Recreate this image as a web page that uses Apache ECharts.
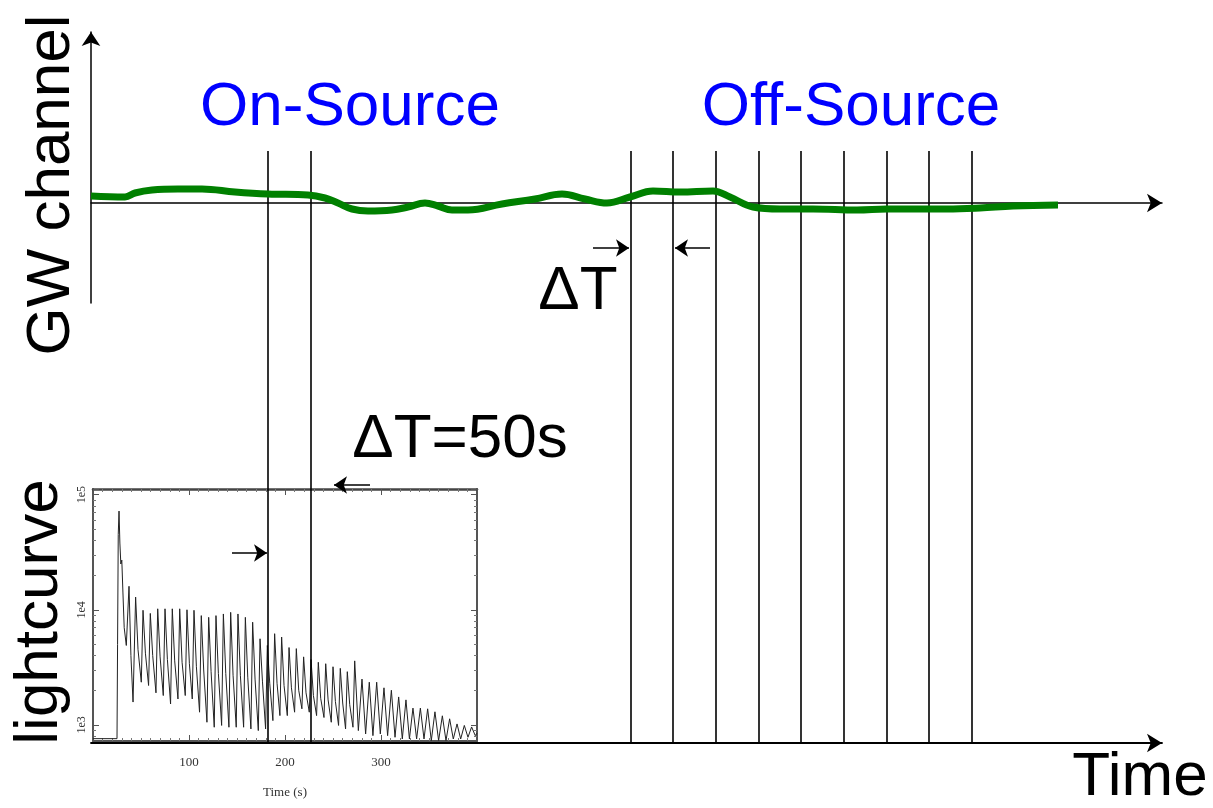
<!DOCTYPE html>
<html>
<head>
<meta charset="utf-8">
<title>On-Source / Off-Source</title>
<script src="https://cdn.jsdelivr.net/npm/echarts@6/dist/echarts.min.js"></script>
<style>
  html, body { margin: 0; padding: 0; background: #fff; }
  #myChart { width: 1213px; height: 808px; }
</style>
</head>
<body>
<div id="myChart"></div>
<script>
// GW channel trace (time in schematic units, amplitude in arbitrary units)
const gwTime = [0, 34, 44, 61, 87, 111, 144, 177, 217, 234, 247, 261, 277, 301, 317, 334, 347, 361, 377, 411,
  444, 471, 494, 516, 539, 562, 589, 622, 639, 662, 689, 722, 766, 796, 856, 889, 922, 967]
const gwStrain = [7, 6, 10, 13, 14, 14, 11, 9, 8, 5, 0, -6, -8, -7, -4, 0, -3, -7, -7, -1,
  4, 9, 4, 0, 6, 12, 11, 12, 6, -4, -6, -6, -7, -6, -6, -5, -3, -2]

// window edges on the common time axis
const onSourceEdges = [177, 220]
const offSourceEdges = [540, 582, 625, 668, 710, 753, 796, 838, 881]

// delta-T arrows: [from, to, level]
const deltaArrows = [[502, 538, 495], [619, 584, 495], [279, 243, 258], [141, 176, 190]]

// inset light curve: [time (s), counts]
const lightcurve = [
  [0, 760], [25.0, 760], [25.6, 5000], [26.3, 45000], [27.1, 72000], [28.0, 38000], [29.0, 25000],
  [30.0, 27000], [31.2, 14000], [32.5, 7000], [34.7, 4900],
  [37.5, 16000], [39.5, 4000], [41.7, 1580],
  [44.4, 12900], [46.9, 4500], [50.3, 2350],
  [52.1, 9900], [54.6, 4200], [57.9, 2200],
  [59.7, 9300], [62.2, 4000], [65.6, 1900],
  [67.4, 10200], [69.9, 3900], [73.2, 1800],
  [75.0, 10200], [77.5, 3700], [80.8, 1520],
  [82.6, 10200], [85.1, 3600], [88.5, 1680],
  [90.3, 10200], [92.8, 3500], [96.1, 1800],
  [97.9, 10000], [100.4, 3400], [103.4, 1680],
  [105.2, 9900], [107.7, 3200], [111.0, 1290],
  [112.8, 8900], [115.3, 3000], [118.7, 1055],
  [120.5, 8600], [123.0, 2900], [126.3, 955],
  [128.1, 8900], [130.6, 2800], [134.0, 990],
  [135.8, 9200], [138.3, 2800], [141.6, 955],
  [143.4, 9500], [145.9, 2700], [149.2, 955],
  [151.0, 9200], [153.5, 2700], [156.9, 955],
  [158.7, 8600], [161.2, 2600], [164.5, 923],
  [166.3, 7800], [168.8, 2500], [172.2, 893],
  [174.0, 5600], [176.5, 2400], [179.8, 923],
  [181.6, 4900], [184.1, 2300], [187.4, 1090],
  [189.2, 6200], [191.7, 2300], [194.7, 1205],
  [196.5, 5800], [199.0, 2200], [202.4, 1205],
  [204.2, 4700], [206.7, 2100], [210.0, 1290],
  [211.8, 4600], [214.3, 2000], [217.6, 1380],
  [219.4, 3900], [221.9, 1900], [225.3, 1290],
  [227.1, 3700], [229.6, 1800], [232.9, 1205],
  [234.7, 3500], [237.2, 1700], [240.6, 1160],
  [242.4, 3400], [244.9, 1650], [248.2, 1055],
  [250.0, 3200], [252.5, 1600], [255.8, 990],
  [257.6, 3100], [260.1, 1550], [263.1, 923],
  [264.9, 2900], [267.4, 1500], [270.8, 955],
  [272.6, 3600], [276.4, 893],
  [280.2, 2500], [284.0, 835],
  [287.8, 2350], [291.6, 807],
  [295.5, 2350], [299.3, 835],
  [303.1, 2100], [306.9, 807],
  [310.8, 2000], [314.6, 781],
  [318.4, 1750], [322.2, 755],
  [326.0, 1650], [329.6, 755],
  [333.3, 1400], [337.1, 755],
  [341.0, 1400], [344.8, 755],
  [348.6, 1380], [352.4, 731],
  [356.2, 1300], [360.0, 731],
  [363.9, 1200], [367.7, 731],
  [371.5, 1130], [375.3, 755],
  [379.2, 1020], [383.0, 755],
  [386.8, 990], [390.6, 781],
  [394.4, 960], [398.2, 807],
  [400, 850]
]
const lcTimeTicks = [100, 200, 300]
const lcDecades = [1e3, 1e4, 1e5]

const sans = '"Liberation Sans", Arial, sans-serif'
const serif = '"Liberation Serif", "DejaVu Serif", serif'

const myChart = echarts.init(document.getElementById('myChart'))

const edgeLines = onSourceEdges.concat(offSourceEdges).map(t => ({ coords: [[t, 0], [t, 592]] }))
const arrowLines = deltaArrows.map(a => ({ coords: [[a[0], a[2]], [a[1], a[2]]] }))

const isDecade = v => lcDecades.some(d => Math.abs(v - d) / d < 1e-6)

const option = {
  animation: false,
  backgroundColor: '#fff',
  grid: [
    // whole schematic (window edges + time axis)
    { left: 91, right: 51, top: 151, bottom: 65 },
    // GW channel
    { left: 91, right: 51, top: 32, height: 271 },
    // light curve inset
    { left: 93, top: 489, width: 384, height: 252 }
  ],
  xAxis: [
    {
      gridIndex: 0, type: 'value', min: 0, max: 1071,
      axisLine: { show: true, symbol: ['none', 'arrow'], symbolSize: [14, 15], lineStyle: { color: '#000', width: 1.8 } },
      axisTick: { show: false }, axisLabel: { show: false }, splitLine: { show: false }
    },
    {
      gridIndex: 1, type: 'value', min: 0, max: 1071,
      axisLine: { show: true, onZero: true, symbol: ['none', 'arrow'], symbolSize: [14, 15], lineStyle: { color: '#000', width: 1.5 } },
      axisTick: { show: false }, axisLabel: { show: false }, splitLine: { show: false }
    },
    {
      gridIndex: 2, type: 'value', min: 0, max: 400, interval: 100, position: 'bottom',
      name: 'Time (s)', nameLocation: 'middle', nameGap: 45,
      nameTextStyle: { fontFamily: serif, fontSize: 13, color: '#333' },
      axisLine: { show: true, onZero: false, lineStyle: { color: '#555', width: 2 } },
      axisTick: { show: true, inside: true, length: 6, lineStyle: { color: '#555' } },
      minorTick: { show: true, splitNumber: 10, length: 3, lineStyle: { color: '#777' } },
      axisLabel: {
        margin: 15, fontFamily: serif, fontSize: 13, color: '#333',
        formatter: v => (lcTimeTicks.indexOf(v) >= 0 ? String(v) : '')
      },
      splitLine: { show: false }
    },
    {
      gridIndex: 2, type: 'value', min: 0, max: 400, interval: 100, position: 'top',
      axisLine: { show: true, onZero: false, lineStyle: { color: '#444', width: 2.5 } },
      axisTick: { show: true, inside: true, length: 6, lineStyle: { color: '#555' } },
      minorTick: { show: true, splitNumber: 10, length: 3, lineStyle: { color: '#777' } },
      axisLabel: { show: false }, splitLine: { show: false }
    }
  ],
  yAxis: [
    {
      gridIndex: 0, type: 'value', min: 0, max: 592, show: false
    },
    {
      gridIndex: 1, type: 'value', min: -100, max: 171,
      axisLine: { show: true, onZero: false, symbol: ['none', 'arrow'], symbolSize: [14, 14], lineStyle: { color: '#000', width: 1.5 } },
      axisTick: { show: false }, axisLabel: { show: false }, splitLine: { show: false }
    },
    {
      gridIndex: 2, type: 'log', logBase: 10, min: 725, max: 112000, position: 'left',
      axisLine: { show: true, onZero: false, lineStyle: { color: '#555', width: 2 } },
      axisTick: { show: true, inside: true, length: 6, lineStyle: { color: '#555' } },
      minorTick: { show: true, splitNumber: 9, length: 3, lineStyle: { color: '#777' } },
      axisLabel: {
        rotate: 90, margin: 5, fontFamily: serif, fontSize: 12, color: '#333',
        showMinLabel: false, showMaxLabel: false,
        formatter: v => (isDecade(v) ? '1e' + Math.round(Math.log10(v)) : '')
      },
      splitLine: { show: false }
    },
    {
      gridIndex: 2, type: 'log', logBase: 10, min: 725, max: 112000, position: 'right',
      axisLine: { show: true, onZero: false, lineStyle: { color: '#555', width: 2 } },
      axisTick: { show: true, inside: true, length: 6, lineStyle: { color: '#555' } },
      minorTick: { show: true, splitNumber: 9, length: 3, lineStyle: { color: '#777' } },
      axisLabel: { show: false }, splitLine: { show: false }
    }
  ],
  series: [
    {
      name: 'lightcurve',
      type: 'line',
      xAxisIndex: 2,
      yAxisIndex: 2,
      showSymbol: false,
      lineStyle: { color: '#222', width: 1 },
      data: lightcurve,
      z: 2
    },
    {
      name: 'GW channel',
      type: 'line',
      xAxisIndex: 1,
      yAxisIndex: 1,
      smooth: 0.4,
      showSymbol: false,
      lineStyle: { color: '#008000', width: 7, cap: 'butt' },
      data: gwTime.map((t, i) => [t, gwStrain[i]]),
      z: 4
    },
    {
      name: 'windows',
      type: 'lines',
      coordinateSystem: 'cartesian2d',
      xAxisIndex: 0,
      yAxisIndex: 0,
      symbol: 'none',
      lineStyle: { color: '#000', width: 1.6, opacity: 1 },
      data: edgeLines,
      z: 3
    },
    {
      name: 'delta T',
      type: 'lines',
      coordinateSystem: 'cartesian2d',
      xAxisIndex: 0,
      yAxisIndex: 0,
      symbol: ['none', 'arrow'],
      symbolSize: 13,
      lineStyle: { color: '#000', width: 1.5, opacity: 1 },
      data: arrowLines,
      z: 5
    }
  ],
  graphic: [
    { type: 'text', x: 350, y: 108, style: { text: 'On-Source', fill: '#0000ff', font: '62px ' + sans, align: 'center', verticalAlign: 'middle' } },
    { type: 'text', x: 851, y: 108, style: { text: 'Off-Source', fill: '#0000ff', font: '62px ' + sans, align: 'center', verticalAlign: 'middle' } },
    { type: 'text', x: 52, y: 185, rotation: Math.PI / 2, style: { text: 'GW channel', fill: '#000', font: '62px ' + sans, align: 'center', verticalAlign: 'middle' } },
    { type: 'text', x: 40, y: 612, rotation: Math.PI / 2, style: { text: 'lightcurve', fill: '#000', font: '62px ' + sans, align: 'center', verticalAlign: 'middle' } },
    { type: 'text', x: 578, y: 292, style: { text: 'ΔT', fill: '#000', font: '62px ' + sans, align: 'center', verticalAlign: 'middle' } },
    { type: 'text', x: 460, y: 440, style: { text: 'ΔT=50s', fill: '#000', font: '62px ' + sans, align: 'center', verticalAlign: 'middle' } },
    { type: 'text', x: 1140, y: 778, style: { text: 'Time', fill: '#000', font: '62px ' + sans, align: 'center', verticalAlign: 'middle' } }
  ]
}

myChart.setOption(option)
window.addEventListener('resize', function() {
  myChart.resize()
})
</script>
</body>
</html>
